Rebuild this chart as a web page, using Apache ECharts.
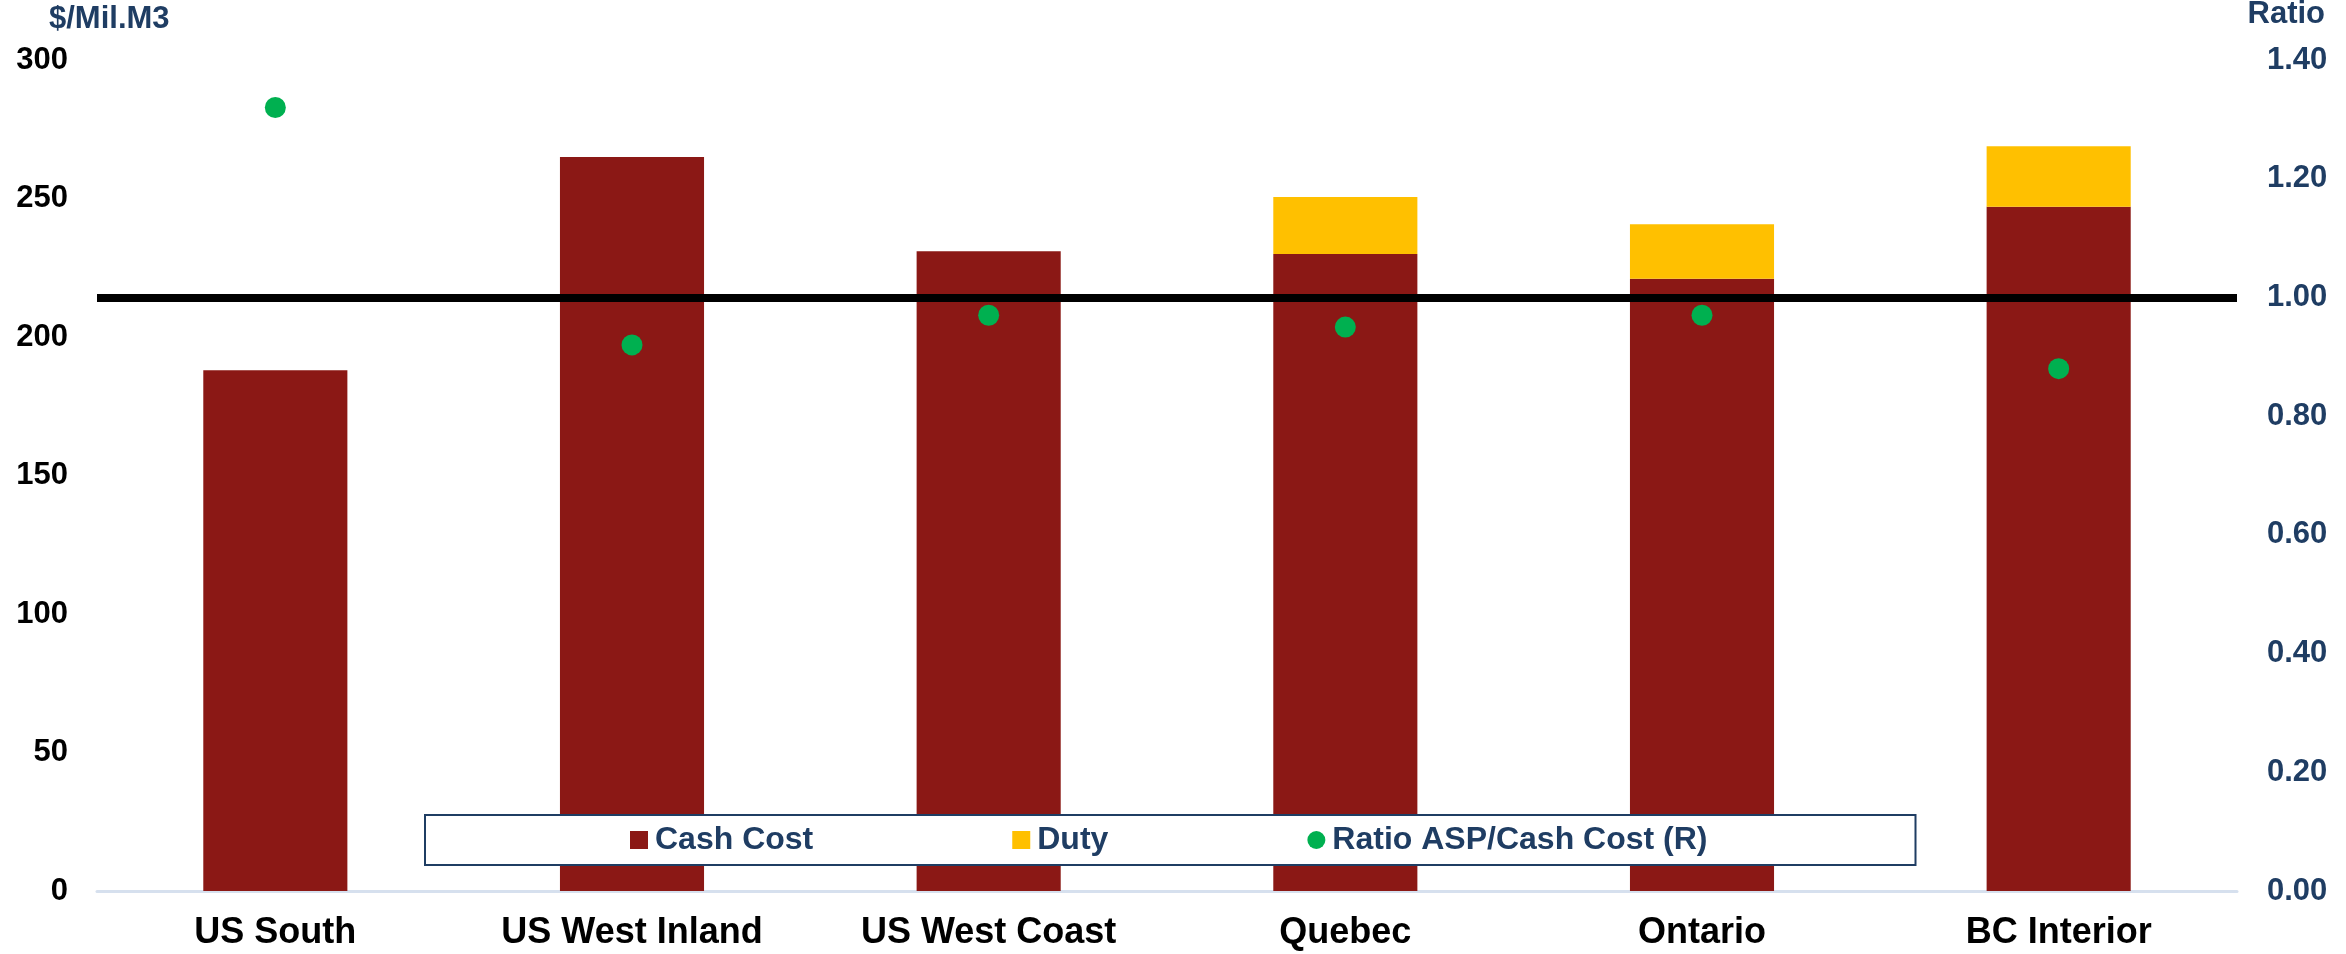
<!DOCTYPE html>
<html><head><meta charset="utf-8">
<script src="https://cdn.jsdelivr.net/npm/echarts@6/dist/echarts.min.js"></script>
<style>html,body{margin:0;padding:0;background:#fff}#c{width:2346px;height:954px}</style>
</head><body><div id="c"></div>
<script>
const categories = ['US South', 'US West Inland', 'US West Coast', 'Quebec', 'Ontario', 'BC Interior'];
const cashCost = [188, 265, 231, 230, 221, 247];
const duty = [null, null, null, 20.5, 19.7, 21.9];
const ratio = [1.32, 0.92, 0.97, 0.95, 0.97, 0.88];
const leftTicks = { min: 0, max: 300, interval: 50 };
const rightTicks = { min: 0, max: 1.4, interval: 0.2 };
const breakEven = [1.0];

const FONT = "'Liberation Sans', Arial, sans-serif";
const NAVY = '#1F3D63';

const chart = echarts.init(document.getElementById('c'), null, { renderer: 'canvas' });
chart.setOption({
  animation: false,
  backgroundColor: '#fff',
  title: [
    { text: '$/Mil.M3', left: 49, top: 4, padding: 0, textStyle: { fontFamily: FONT, fontSize: 31, fontWeight: 'bold', color: NAVY } },
    { text: 'Ratio', right: 21, top: -1, padding: 0, textStyle: { fontFamily: FONT, fontSize: 31, fontWeight: 'bold', color: NAVY } }
  ],
  grid: { left: 97, right: 109, top: 60, bottom: 63, containLabel: false },
  legend: {
    left: 425, top: 815,
    padding: [9, 208, 9, 205],
    borderColor: NAVY, borderWidth: 2, backgroundColor: '#fff',
    itemGap: 199, itemWidth: 18, itemHeight: 18,
    textStyle: { fontFamily: FONT, fontSize: 32, fontWeight: 'bold', color: NAVY, padding: [0, 0, 0, 2] },
    data: [
      { name: 'Cash Cost', icon: 'rect' },
      { name: 'Duty', icon: 'rect' },
      { name: 'Ratio ASP/Cash Cost (R)', icon: 'circle' }
    ]
  },
  xAxis: {
    type: 'category', data: categories,
    axisLine: { show: true, lineStyle: { color: '#D6E0EE', width: 3 } },
    axisTick: { show: false },
    axisLabel: { fontFamily: FONT, fontSize: 36, fontWeight: 'bold', color: '#000', margin: 24 }
  },
  yAxis: [
    {
      type: 'value', min: leftTicks.min, max: leftTicks.max, interval: leftTicks.interval,
      splitLine: { show: false }, axisLine: { show: false }, axisTick: { show: false },
      axisLabel: { fontFamily: FONT, fontSize: 31, fontWeight: 'bold', color: '#000', margin: 29 }
    },
    {
      type: 'value', min: rightTicks.min, max: rightTicks.max, interval: rightTicks.interval,
      position: 'right',
      splitLine: { show: false }, axisLine: { show: false }, axisTick: { show: false },
      axisLabel: { fontFamily: FONT, fontSize: 31, fontWeight: 'bold', color: NAVY, margin: 30,
        formatter: v => v.toFixed(2) }
    }
  ],
  series: [
    { name: 'Cash Cost', type: 'bar', stack: 'cost', data: cashCost, barWidth: '40.4%',
      itemStyle: { color: '#8B1815' }, z: 2 },
    { name: 'Duty', type: 'bar', stack: 'cost', data: duty,
      itemStyle: { color: '#FFC000' }, z: 2 },
    { name: 'Ratio ASP/Cash Cost (R)', type: 'scatter', yAxisIndex: 1, data: ratio,
      symbol: 'circle', symbolSize: 21, itemStyle: { color: '#00B050', opacity: 1 }, z: 5,
      markLine: {
        silent: true, symbol: ['none', 'none'], label: { show: false },
        lineStyle: { color: '#000', width: 8, type: 'solid' },
        data: breakEven.map(v => ({ yAxis: v }))
      }
    }
  ]
});
</script></body></html>
